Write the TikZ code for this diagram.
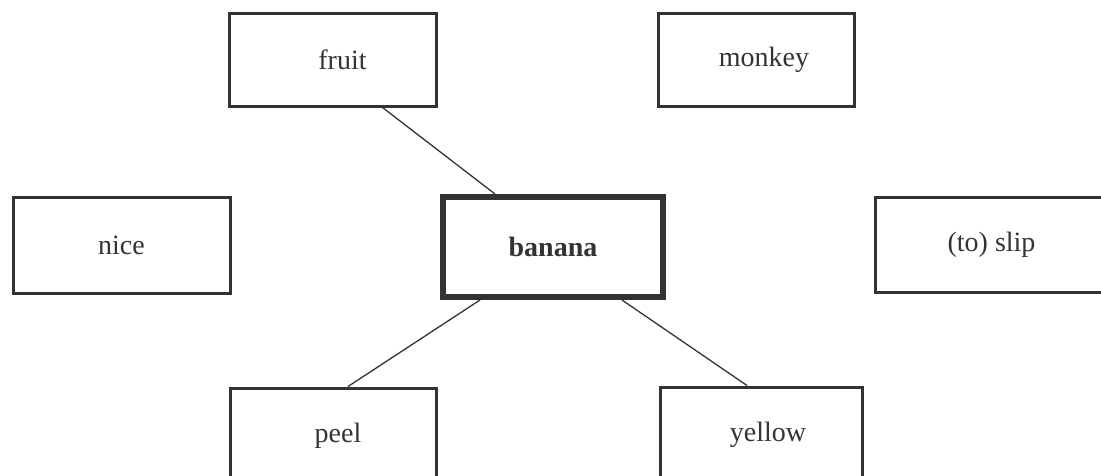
\documentclass[tikz,border=0pt]{standalone}
\usepackage{fontspec}
\setmainfont{Liberation Serif}
\definecolor{ink}{HTML}{333333}
\begin{document}
\begin{tikzpicture}[x=1pt,y=-1pt,
  wbox/.style={draw=ink, line width=3pt, rectangle, inner sep=0pt, text=ink,
    font=\fontsize{28}{32}\selectfont},
  mainbox/.style={wbox, line width=6pt, font=\fontsize{28}{32}\selectfont\bfseries},
  link/.style={draw=ink, line width=1.3pt}]
\useasboundingbox (0,0) rectangle (1101,475);
\clip (0,0) rectangle (1101,475);
\node[wbox, minimum width=207pt, minimum height=93pt] (fruit) at (332.5,59.5) {\hspace*{20pt}fruit};
\node[wbox, minimum width=196pt, minimum height=93pt] (monkey) at (756,59.5) {\hspace*{16pt}monkey};
\node[wbox, minimum width=217pt, minimum height=96pt] (nice) at (121.5,245) {nice};
\node[mainbox, minimum width=220pt, minimum height=100pt] (banana) at (553,247) {banana};
\node[wbox, minimum width=233pt, minimum height=95pt] (slip) at (991.5,244.5) {(to) slip};
\node[wbox, minimum width=206pt, minimum height=96pt] (peel) at (333,436) {\hspace*{10pt}peel};
\node[wbox, minimum width=202pt, minimum height=96pt] (yellow) at (761,435) {\hspace*{14pt}yellow};
\draw[link] ([xshift=50pt]fruit.south) -- ([xshift=-58pt]banana.north);
\draw[link] ([xshift=-73pt]banana.south) -- ([xshift=15pt]peel.north);
\draw[link] ([xshift=69pt]banana.south) -- ([xshift=-14pt]yellow.north);
\end{tikzpicture}
\end{document}
